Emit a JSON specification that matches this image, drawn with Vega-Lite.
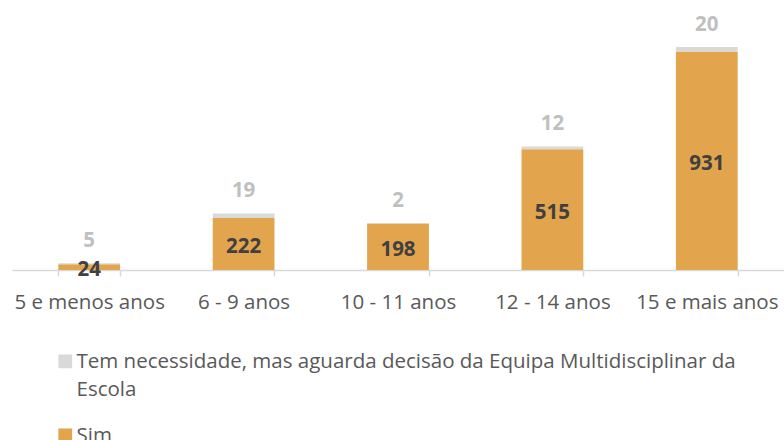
{
  "$schema": "https://vega.github.io/schema/vega-lite/v6.json",
  "width": 772,
  "height": 270,
  "autosize": {"type": "none"},
  "padding": {"left": 12, "top": 0, "right": 0, "bottom": 170},
  "background": "white",
  "config": {"view": {"stroke": null}, "font": "Open Sans", "style": {"guide-label": {"lineHeight": 28}}},
  "data": {
    "values": [
      {"faixa": "5 e menos anos", "serie": "Sim", "valor": 24},
      {"faixa": "6 - 9 anos", "serie": "Sim", "valor": 222},
      {"faixa": "10 - 11 anos", "serie": "Sim", "valor": 198},
      {"faixa": "12 - 14 anos", "serie": "Sim", "valor": 515},
      {"faixa": "15 e mais anos", "serie": "Sim", "valor": 931},
      {"faixa": "5 e menos anos", "serie": "Tem necessidade, mas aguarda decisão da Equipa Multidisciplinar da Escola", "valor": 5},
      {"faixa": "6 - 9 anos", "serie": "Tem necessidade, mas aguarda decisão da Equipa Multidisciplinar da Escola", "valor": 19},
      {"faixa": "10 - 11 anos", "serie": "Tem necessidade, mas aguarda decisão da Equipa Multidisciplinar da Escola", "valor": 2},
      {"faixa": "12 - 14 anos", "serie": "Tem necessidade, mas aguarda decisão da Equipa Multidisciplinar da Escola", "valor": 12},
      {"faixa": "15 e mais anos", "serie": "Tem necessidade, mas aguarda decisão da Equipa Multidisciplinar da Escola", "valor": 20}
    ]
  },
  "transform": [
    {"calculate": "datum.serie == 'Sim' ? 0 : 1", "as": "ordem"},
    {"joinaggregate": [{"op": "sum", "field": "valor", "as": "total"}], "groupby": ["faixa"]},
    {"calculate": "datum.serie == 'Sim' ? datum.valor / 2 : datum.total", "as": "labelpos"}
  ],
  "encoding": {
    "x": {
      "field": "faixa",
      "type": "nominal",
      "sort": ["5 e menos anos", "6 - 9 anos", "10 - 11 anos", "12 - 14 anos", "15 e mais anos"],
      "scale": {"paddingInner": 0.6, "paddingOuter": 0.3},
      "axis": {
        "title": null,
        "labelAngle": 0,
        "labelFontSize": 20.5,
        "labelColor": "#595959",
        "labelPadding": 16,
        "domainColor": "#D9D9D9",
        "domainWidth": 1.5,
        "tickColor": "#D9D9D9",
        "tickBand": "extent",
        "tickSize": 6,
        "tickWidth": 1.5
      }
    }
  },
  "layer": [
    {
      "mark": {"type": "bar"},
      "encoding": {
        "y": {"field": "valor", "type": "quantitative", "stack": "zero", "scale": {"domain": [0, 1151], "nice": false}, "axis": null},
        "color": {
          "field": "serie",
          "type": "nominal",
          "scale": {
            "domain": ["Tem necessidade, mas aguarda decisão da Equipa Multidisciplinar da Escola", "Sim"],
            "range": ["#D9D9D9", "#E2A54D"]
          },
          "legend": {
            "orient": "none",
            "legendX": 43,
            "legendY": 358,
            "direction": "vertical",
            "title": null,
            "symbolType": "M-1,-2H1V0H-1Z",
            "symbolSize": 190,
            "symbolStrokeWidth": 0,
            "labelFontSize": 20.5,
            "labelColor": "#595959",
            "labelLimit": 800,
            "labelOffset": 1,
            "labelBaseline": "alphabetic",
            "rowPadding": 25,
            "labelExpr": "datum.label == 'Sim' ? 'Sim' : ['Tem necessidade, mas aguarda decisão da Equipa Multidisciplinar da', 'Escola']"
          }
        },
        "order": {"field": "ordem", "type": "quantitative"}
      }
    },
    {
      "transform": [{"filter": "datum.serie == 'Sim'"}],
      "mark": {"type": "text", "fontSize": 20.5, "fontWeight": "bold", "color": "#404040", "baseline": "middle", "dy": 3},
      "encoding": {
        "y": {"field": "labelpos", "type": "quantitative"},
        "text": {"field": "valor", "type": "quantitative"}
      }
    },
    {
      "transform": [{"filter": "datum.serie != 'Sim'"}],
      "mark": {"type": "text", "fontSize": 20.5, "fontWeight": "bold", "color": "#BFBFBF", "baseline": "middle", "dy": -22},
      "encoding": {
        "y": {"field": "labelpos", "type": "quantitative"},
        "text": {"field": "valor", "type": "quantitative"}
      }
    }
  ]
}
